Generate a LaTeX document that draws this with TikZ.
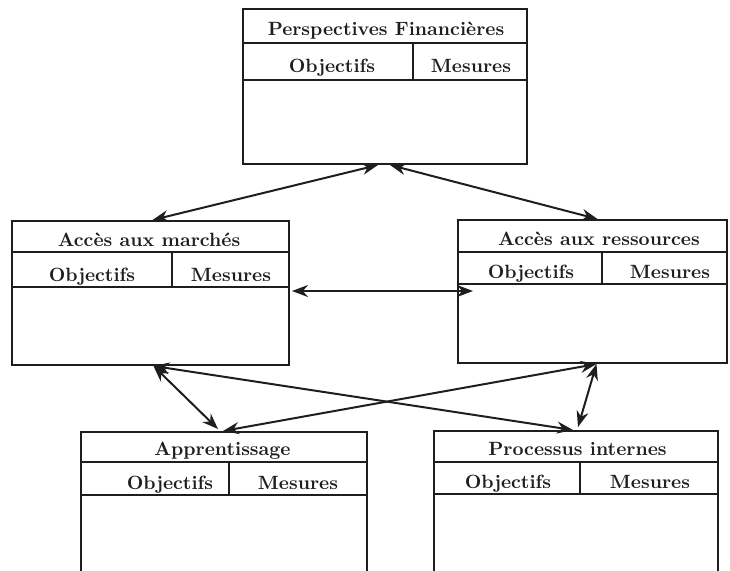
\documentclass[tikz,border=0pt]{standalone}
\usepackage{tikz}
\usetikzlibrary{positioning,calc,arrows.meta}
\definecolor{trait}{RGB}{30,30,30}
\tikzstyle{box} = [draw=trait, rectangle, line width=1pt, inner sep=0pt]
\tikzstyle{titre} = [font=\fontsize{9.6}{11}\selectfont\bfseries, text=trait, inner sep=0pt, anchor=base]
\tikzstyle{link} = [>={Stealth[length=8pt,width=6pt]}, <->, draw=trait, line width=1pt]

\begin{document}
\begin{tikzpicture}[x=0.5pt,y=-0.5pt]
  \clip (0,0) rectangle (730,570);
  % Perspectives financieres
  \node[box, minimum width=142pt, minimum height=77.5pt] (fin) at (385,86.5) {};
  \draw[box] ($(fin.north west)+(0,35)$) -- ($(fin.north east)+(0,35)$);
  \draw[box] ($(fin.north west)+(0,72)$) -- ($(fin.north east)+(0,72)$);
  \draw[box] ($(fin.north west)+(171,35)$) -- ($(fin.north west)+(171,72)$);
  \node[titre] (finT) at (386,35) {Perspectives Financières};
  \node[titre] (finO) at (332,72) {Objectifs};
  \node[titre] (finM) at (471,72) {Mesures};

  % Acces aux marches
  \node[box, minimum width=138.5pt, minimum height=72pt] (march) at (150.5,293) {};
  \draw[box] ($(march.north west)+(0,32)$) -- ($(march.north east)+(0,32)$);
  \draw[box] ($(march.north west)+(0,67)$) -- ($(march.north east)+(0,67)$);
  \draw[box] ($(march.north west)+(161,32)$) -- ($(march.north west)+(161,67)$);
  \node[titre] (marchT) at (149,246) {Accès aux marchés};
  \node[titre] (marchO) at (92,281) {Objectifs};
  \node[titre] (marchM) at (231,281) {Mesures};

  % Acces aux ressources
  \node[box, minimum width=134.5pt, minimum height=71.5pt] (res) at (592.5,291.5) {};
  \draw[box] ($(res.north west)+(0,33)$) -- ($(res.north east)+(0,33)$);
  \draw[box] ($(res.north west)+(0,65)$) -- ($(res.north east)+(0,65)$);
  \draw[box] ($(res.north west)+(145,33)$) -- ($(res.north west)+(145,65)$);
  \node[titre] (resT) at (599,245) {Accès aux ressources};
  \node[titre] (resO) at (531,278) {Objectifs};
  \node[titre] (resM) at (670,278) {Mesures};

  % Apprentissage
  \node[box, minimum width=143pt, minimum height=75pt] (app) at (224,507) {};
  \draw[box] ($(app.north west)+(0,31)$) -- ($(app.north east)+(0,31)$);
  \draw[box] ($(app.north west)+(0,64)$) -- ($(app.north east)+(0,64)$);
  \draw[box] ($(app.north west)+(149,31)$) -- ($(app.north west)+(149,64)$);
  \node[titre] (appT) at (222.5,455) {Apprentissage};
  \node[titre] (appO) at (170,489) {Objectifs};
  \node[titre] (appM) at (298,489) {Mesures};

  % Processus internes
  \node[box, minimum width=142pt, minimum height=75pt] (proc) at (576,506) {};
  \draw[box] ($(proc.north west)+(0,32)$) -- ($(proc.north east)+(0,32)$);
  \draw[box] ($(proc.north west)+(0,64)$) -- ($(proc.north east)+(0,64)$);
  \draw[box] ($(proc.north west)+(147,32)$) -- ($(proc.north west)+(147,64)$);
  \node[titre] (procT) at (577.5,455) {Processus internes};
  \node[titre] (procO) at (508,488) {Objectifs};
  \node[titre] (procM) at (650,488) {Mesures};

  % liens
  \draw[link] ($(fin.south)+(-7,0)$) -- ($(march.north)+(2,0)$);
  \draw[link] ($(fin.south)+(5,0)$) -- ($(res.north)+(5,0)$);
  \draw[link] ($(march.east)+(2,-2)$) -- ($(res.west)+(16,-0.5)$);
  \draw[link] ($(march.south)+(3,0)$) -- ($(app.north)+(-6,-2)$);
  \draw[link] ($(march.south)+(3,0)$) -- ($(proc.north)+(-3,0)$);
  \draw[link] ($(res.south)+(4,0)$) -- ($(app.north)+(-1,0)$);
  \draw[link] ($(res.south)+(4,0)$) -- ($(proc.north)+(2,-3)$);
\end{tikzpicture}
\end{document}
